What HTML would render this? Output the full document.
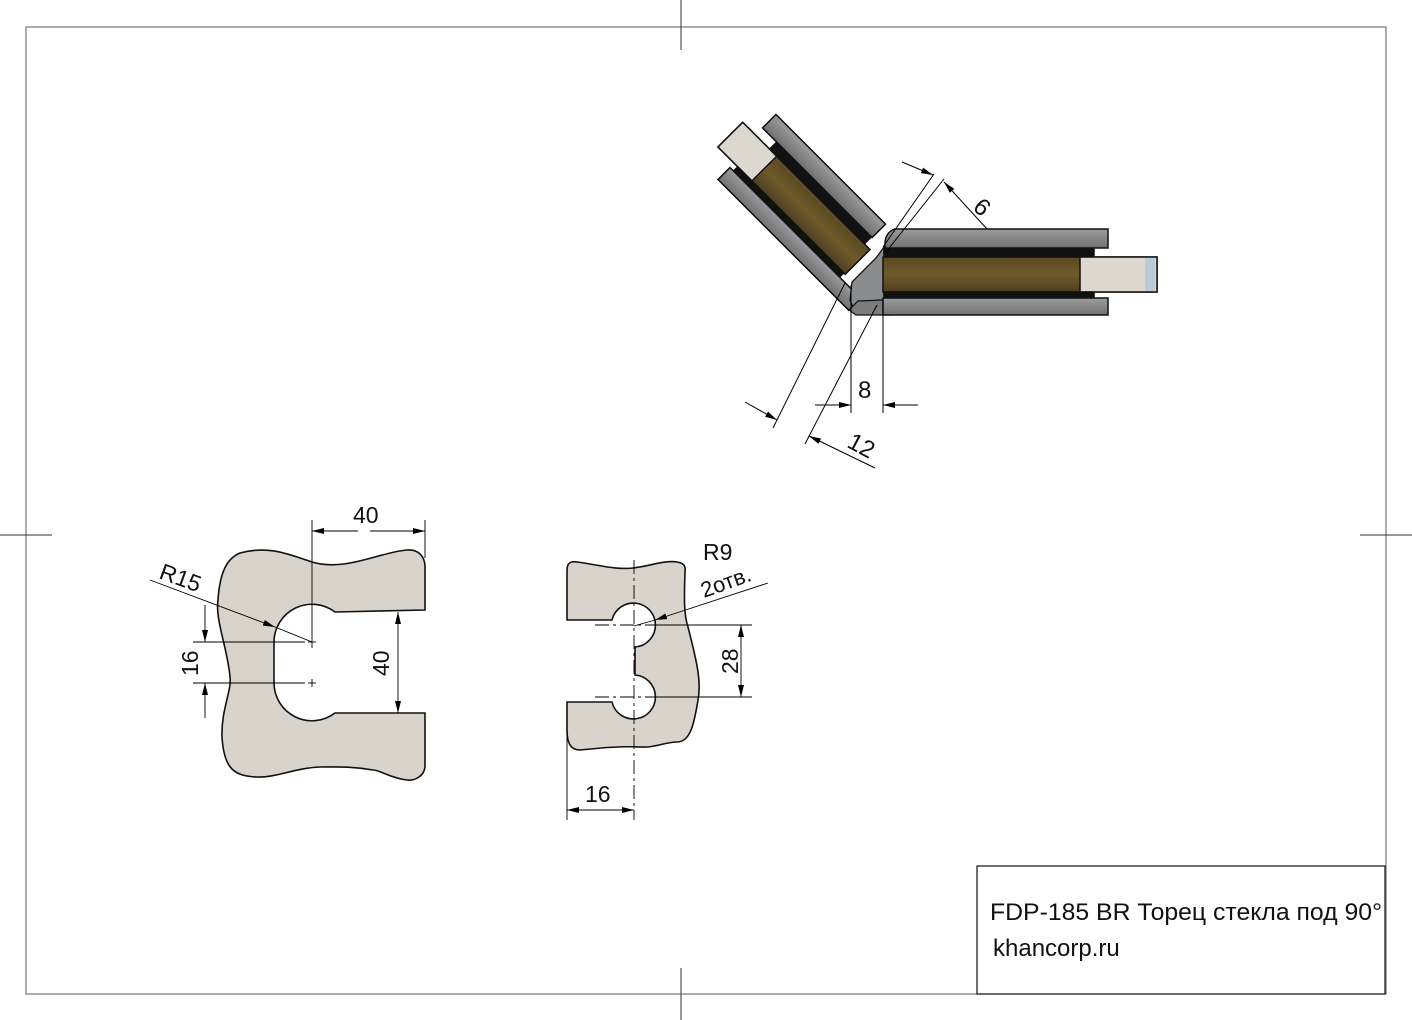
<!DOCTYPE html>
<html><head><meta charset="utf-8"><style>
html,body{margin:0;padding:0;background:#fff}
svg{display:block}
text{font-family:"Liberation Sans",sans-serif;fill:#111}
</style></head><body>
<svg width="1412" height="1020" viewBox="0 0 1412 1020" xmlns="http://www.w3.org/2000/svg">
<defs>
<marker id="a" viewBox="0 0 12 6" refX="12" refY="3" markerWidth="12" markerHeight="6" orient="auto-start-reverse" markerUnits="userSpaceOnUse"><path d="M0,0 L12,3 L0,6 z" fill="#000"/></marker>
<linearGradient id="gl" x1="0" y1="0" x2="0" y2="1"><stop offset="0" stop-color="#5a4a22"/><stop offset="0.5" stop-color="#6e5a2a"/><stop offset="1" stop-color="#4e4020"/></linearGradient>
<linearGradient id="pl" x1="0" y1="0" x2="0" y2="1"><stop offset="0" stop-color="#9a9c9e"/><stop offset="1" stop-color="#6f7173"/></linearGradient>
</defs>
<rect x="26" y="27" width="1360" height="967" fill="none" stroke="#777" stroke-width="1.2"/>
<g stroke="#333" stroke-width="1">
<line x1="681" y1="0" x2="681" y2="50"/><line x1="681" y1="968" x2="681" y2="1020"/>
<line x1="0" y1="535" x2="52" y2="535"/><line x1="1360" y1="535" x2="1412" y2="535"/>
</g>
<rect x="977" y="866" width="408" height="128" fill="#fff" stroke="#222" stroke-width="1.3"/>
<text x="990" y="920" font-size="24.5" textLength="392" lengthAdjust="spacingAndGlyphs">FDP-185 BR Торец стекла под 90°</text>
<text x="993" y="956" font-size="24">khancorp.ru</text>

<!-- left arm, local coords -->
<g transform="translate(870,275) rotate(225) scale(1,-1)" stroke="#111" stroke-width="1.5">
<rect x="25" y="-47" width="155" height="19" fill="url(#pl)"/>
<rect x="26" y="-27" width="134" height="8" fill="#111"/>
<rect x="18" y="-18" width="180" height="35" fill="url(#gl)"/>
<rect x="150" y="-18" width="48" height="35" fill="#dcd8d0"/>
<rect x="20" y="17" width="150" height="6" fill="#111"/>
<rect x="-10" y="23" width="185" height="17" fill="url(#pl)"/>
</g>
<!-- joint -->
<path d="M850,300 L852,282 L876,258 L884,247 L884,300 L878,300 L872,313 L856,314 z" fill="#8a8c8e" stroke="#111" stroke-width="1.3"/>
<path d="M849,310 L856,315 L890,315 L883,300 L858,301 z" fill="#7a7c7e" stroke="#111" stroke-width="1.2"/>
<!-- top assembly right arm -->
<g stroke="#111" stroke-width="1.5">
<path d="M895,229 H1108 V248 H885 V242 Q886,232 895,229 z" fill="url(#pl)"/>
<rect x="884" y="249" width="210" height="8" fill="#111"/>
<rect x="883" y="257" width="274" height="35" fill="url(#gl)"/>
<rect x="1080" y="257" width="77" height="35" fill="#dcd8d0"/>
<rect x="1145" y="258" width="10" height="33" fill="#b9cbd8" stroke="none"/>
<rect x="884" y="292" width="210" height="6" fill="#111"/>
<rect x="883" y="298" width="225" height="17" fill="url(#pl)"/>
</g>

<!-- dims top -->
<g stroke="#000" stroke-width="1" fill="none">
<line x1="883" y1="247" x2="934" y2="174"/>
<line x1="886" y1="252" x2="944" y2="179"/>
<line x1="902" y1="162" x2="933" y2="175" marker-end="url(#a)"/>
<line x1="987" y1="229" x2="944" y2="182" marker-end="url(#a)"/>
<line x1="851" y1="285" x2="851" y2="413"/>
<line x1="883" y1="300" x2="883" y2="413"/>
<line x1="815" y1="405" x2="851" y2="405" marker-end="url(#a)"/>
<line x1="918" y1="405" x2="883" y2="405" marker-end="url(#a)"/>
<line x1="845" y1="283" x2="773" y2="428"/>
<line x1="877" y1="305" x2="805" y2="444"/>
<line x1="745" y1="402" x2="777" y2="420" marker-end="url(#a)"/>
<line x1="875" y1="468" x2="809" y2="436" marker-end="url(#a)"/>
</g>
<text x="975" y="216" font-size="24" transform="rotate(42 983 208)">6</text>
<text x="858" y="398" font-size="24">8</text>
<text x="848" y="454" font-size="24" transform="rotate(28 862 446)">12</text>

<!-- left shape -->
<path d="M240,553 C270,545 290,555 312,562 C345,572 380,552 407,550 C418,549 425,556 425,567 L425,610 L335,612 A38,38 0 0 0 274,642 L274,683 A38,38 0 0 0 335,713 L425,713 L425,767 C424,776 415,781 407,780 C390,778 380,770 373,770 C350,766 335,767 320,767 C295,768 275,778 257,777 C235,776 224,770 222,737 C221,710 232,690 230,677 C228,650 215,620 218,600 C220,570 228,558 240,553 z" fill="#d9d3cc" stroke="#111" stroke-width="1.6"/>
<g stroke="#000" stroke-width="0.9" fill="none">
<line x1="312" y1="520" x2="312" y2="648"/>
<line x1="425" y1="520" x2="425" y2="558"/>
<line x1="358" y1="531" x2="312" y2="531" marker-end="url(#a)"/>
<line x1="370" y1="531" x2="425" y2="531" marker-end="url(#a)"/>
<line x1="398" y1="662" x2="398" y2="612" marker-end="url(#a)"/>
<line x1="398" y1="662" x2="398" y2="713" marker-end="url(#a)"/>
<line x1="193" y1="642" x2="305" y2="642"/>
<line x1="193" y1="683" x2="305" y2="683"/>
<line x1="205" y1="605" x2="205" y2="642" marker-end="url(#a)"/>
<line x1="205" y1="718" x2="205" y2="683" marker-end="url(#a)"/>
<line x1="150" y1="580" x2="275" y2="627" marker-end="url(#a)"/>
<line x1="275" y1="627" x2="312" y2="642"/>
<line x1="308" y1="683" x2="316" y2="683"/><line x1="312" y1="679" x2="312" y2="687"/>
<line x1="308" y1="642" x2="316" y2="642"/>
</g>
<text x="353" y="523" font-size="23">40</text>
<text x="0" y="0" font-size="23" transform="translate(389,676) rotate(-90)">40</text>
<text x="0" y="0" font-size="23" transform="translate(198,676) rotate(-90)">16</text>
<text x="0" y="0" font-size="23" transform="translate(158,578) rotate(20)">R15</text>

<!-- right shape -->
<path d="M567,570 C567,562 572,561 577,562 C600,565 615,570 633,568 C650,566 665,560 677,562 C683,563 686,565 685,572 C684,600 684,615 688,627 C695,655 702,680 698,700 C694,725 690,742 677,742 C665,742 655,748 640,747 C620,746 600,748 580,750 C570,750 567,742 567,730 L567,702 L612,702 A22,22 0 1 0 635,675 L635,647 A22,22 0 1 0 612,620 L567,620 z" fill="#d9d3cc" stroke="#111" stroke-width="1.6"/>
<g stroke="#000" stroke-width="0.9" fill="none">
<line x1="634" y1="560" x2="634" y2="820" stroke-dasharray="14,4,3,4"/>
<line x1="567" y1="730" x2="567" y2="820"/>
<line x1="600" y1="810" x2="567" y2="810" marker-end="url(#a)"/>
<line x1="600" y1="810" x2="634" y2="810" marker-end="url(#a)"/>
<line x1="595" y1="625" x2="660" y2="625" stroke-dasharray="14,4,3,4"/>
<line x1="595" y1="697" x2="660" y2="697" stroke-dasharray="14,4,3,4"/>
<line x1="656" y1="625" x2="752" y2="625"/>
<line x1="656" y1="697" x2="752" y2="697"/>
<line x1="741" y1="661" x2="741" y2="625" marker-end="url(#a)"/>
<line x1="741" y1="661" x2="741" y2="697" marker-end="url(#a)"/>
<line x1="768" y1="583" x2="655" y2="620" marker-end="url(#a)"/>
<line x1="655" y1="620" x2="634" y2="626"/>
</g>
<text x="703" y="560" font-size="23">R9</text>
<text x="0" y="0" font-size="22" transform="translate(704,598) rotate(-20)">2отв.</text>
<text x="0" y="0" font-size="23" transform="translate(738,674) rotate(-90)">28</text>
<text x="585" y="802" font-size="23">16</text>
</svg>
</body></html>
